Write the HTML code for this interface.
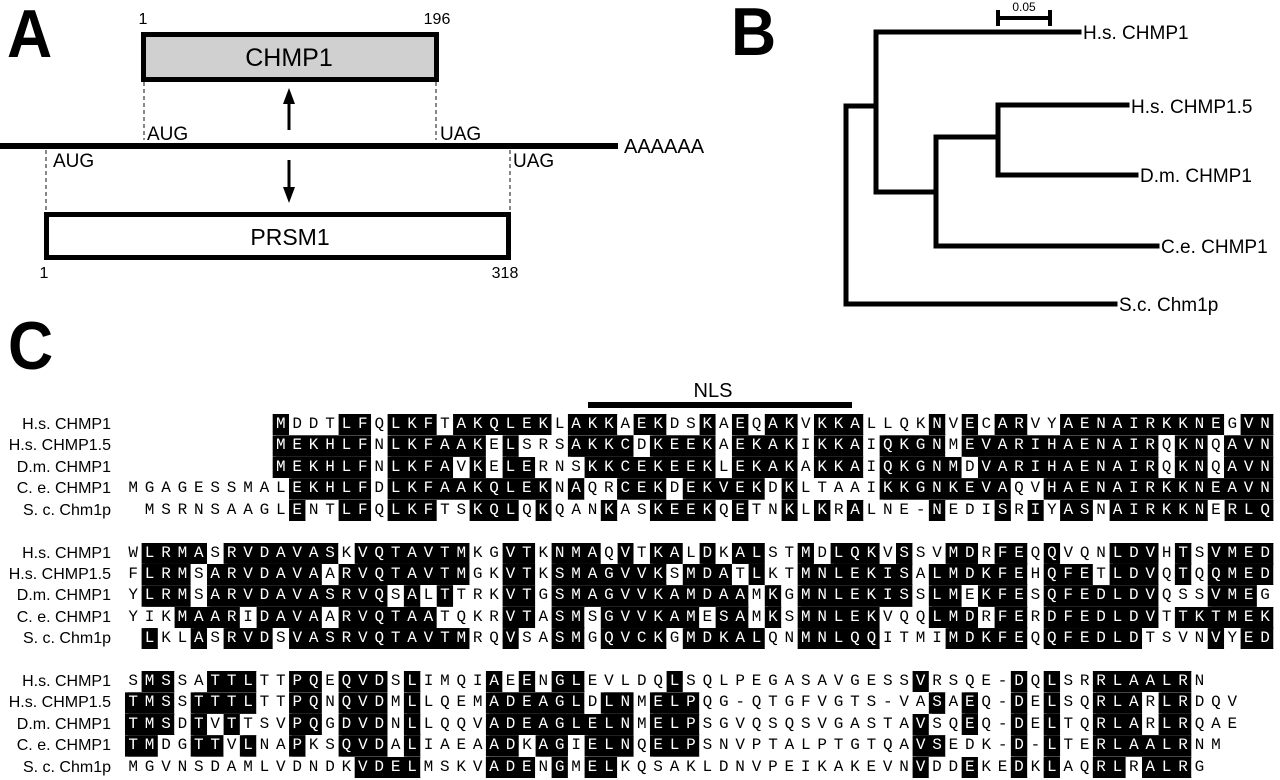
<!DOCTYPE html>
<html><head><meta charset="utf-8"><style>
html,body{margin:0;padding:0;background:#fff;}
body{width:1280px;height:780px;position:relative;overflow:hidden;font-family:"Liberation Sans",sans-serif;color:#000;}
svg{position:absolute;left:0;top:0;}
.lab{position:absolute;right:1169px;font-size:16px;line-height:21.4px;height:21.4px;white-space:nowrap;text-align:right;}
.r{position:absolute;font-family:"Liberation Mono",monospace;font-size:16px;letter-spacing:6.8px;line-height:21.4px;height:21.4px;white-space:pre;}
.r b{display:inline-block;font-weight:normal;background:#000;color:#fff;height:21.4px;vertical-align:top;box-shadow:-3.4px 0 0 #000;clip-path:inset(0 3.4px 0 -3.4px);}
.big{position:absolute;font-weight:bold;font-size:68px;line-height:68px;transform:scaleX(0.92);transform-origin:left top;}
</style></head><body>
<svg width="1280" height="780" viewBox="0 0 1280 780" font-family="Liberation Sans, sans-serif">
<!-- Panel A -->
<rect x="143.5" y="34.5" width="293" height="45" fill="#d0d0d0" stroke="#000" stroke-width="5"/>
<text x="289" y="66" font-size="25" text-anchor="middle">CHMP1</text>
<text x="143" y="24" font-size="16" text-anchor="middle">1</text>
<text x="437" y="24" font-size="16" text-anchor="middle">196</text>
<line x1="144" y1="82" x2="144" y2="140" stroke="#888" stroke-width="2" stroke-dasharray="4,3"/>
<line x1="436" y1="82" x2="436" y2="140" stroke="#888" stroke-width="2" stroke-dasharray="4,3"/>
<line x1="289" y1="100" x2="289" y2="130" stroke="#000" stroke-width="3"/>
<polygon points="289,88 283,104 295,104" fill="#000"/>
<rect x="0" y="143" width="618" height="6" fill="#000"/>
<text x="624" y="153" font-size="20">AAAAAA</text>
<text x="147" y="140" font-size="19">AUG</text>
<text x="440" y="140" font-size="19">UAG</text>
<text x="53" y="167" font-size="19">AUG</text>
<text x="513" y="167" font-size="19">UAG</text>
<line x1="46" y1="150" x2="46" y2="212" stroke="#888" stroke-width="2" stroke-dasharray="4,3"/>
<line x1="510" y1="150" x2="510" y2="212" stroke="#888" stroke-width="2" stroke-dasharray="4,3"/>
<line x1="289" y1="160" x2="289" y2="190" stroke="#000" stroke-width="3"/>
<polygon points="289,203 283,187 295,187" fill="#000"/>
<rect x="46.5" y="214.5" width="462" height="43" fill="#fff" stroke="#000" stroke-width="5"/>
<text x="290" y="245" font-size="23" text-anchor="middle">PRSM1</text>
<text x="44" y="278" font-size="16" text-anchor="middle">1</text>
<text x="505" y="278" font-size="16" text-anchor="middle">318</text>
<!-- Panel B -->
<g stroke="#000" stroke-width="5" fill="none" stroke-linecap="square">
<line x1="998" y1="18" x2="1050" y2="18" stroke-width="4"/>
<line x1="998" y1="12" x2="998" y2="24" stroke-width="4"/>
<line x1="1050" y1="12" x2="1050" y2="24" stroke-width="4"/>
<line x1="846" y1="106" x2="846" y2="304"/>
<line x1="846" y1="106" x2="876" y2="106"/>
<line x1="846" y1="304" x2="1115" y2="304"/>
<line x1="876" y1="32" x2="876" y2="192"/>
<line x1="876" y1="32" x2="1079" y2="32"/>
<line x1="876" y1="192" x2="936" y2="192"/>
<line x1="936" y1="137" x2="936" y2="246"/>
<line x1="936" y1="246" x2="1157" y2="246"/>
<line x1="936" y1="137" x2="998" y2="137"/>
<line x1="998" y1="105" x2="998" y2="175"/>
<line x1="998" y1="105" x2="1127" y2="105"/>
<line x1="998" y1="175" x2="1136" y2="175"/>
</g>
<text x="1024" y="11" font-size="12" text-anchor="middle">0.05</text>
<g font-size="19">
<text x="1083" y="39">H.s. CHMP1</text>
<text x="1131" y="113">H.s. CHMP1.5</text>
<text x="1140" y="182">D.m. CHMP1</text>
<text x="1161" y="253">C.e. CHMP1</text>
<text x="1119" y="311">S.c. Chm1p</text>
</g>
<!-- Panel C -->
<text x="713" y="397" font-size="20" text-anchor="middle">NLS</text>
<rect x="588" y="402" width="264" height="6" fill="#000"/>
</svg>
<div class="big" style="left:7px;top:0px;">A</div>
<div class="big" style="left:731px;top:-2px;">B</div>
<div class="big" style="left:8px;top:312px;">C</div>

<!-- Block 1 -->
<div class="lab" style="top:414px">H.s. CHMP1</div>
<div class="lab" style="top:435.4px">H.s. CHMP1.5</div>
<div class="lab" style="top:456.8px">D.m. CHMP1</div>
<div class="lab" style="top:478.2px">C. e. CHMP1</div>
<div class="lab" style="top:499.6px">S. c. Chm1p</div>
<div class="r" style="left:276px;top:414px"><b>M</b>DDT<b>LF</b>Q<b>LKF</b>T<b>AKQLEK</b>L<b>AKK</b>A<b>EK</b>DS<b>K</b>A<b>E</b>Q<b>AK</b>V<b>KKA</b>LLQK<b>N</b>V<b>E</b>C<b>AR</b>VY<b>AENAIRKKNE</b>G<b>VN</b></div>
<div class="r" style="left:276px;top:435.4px"><b>MEKHLF</b>N<b>LKFAAK</b>E<b>L</b>SRS<b>AKKC</b>D<b>KEEK</b>A<b>EKAK</b>I<b>KKA</b>I<b>QKGN</b>M<b>EVARIHAENAIR</b>Q<b>KN</b>Q<b>AVN</b></div>
<div class="r" style="left:276px;top:456.8px"><b>MEKHLF</b>N<b>LKFA</b>V<b>K</b>E<b>LE</b>RNS<b>KKCEKEEK</b>L<b>EKAK</b>A<b>KKA</b>I<b>QKGNM</b>D<b>VARIHAENAIR</b>Q<b>KN</b>Q<b>AVN</b></div>
<div class="r" style="left:128.4px;top:478.2px">MGAGESSMAL<b>EKHLF</b>D<b>LKFAAKQLEK</b>N<b>A</b>QR<b>CEK</b>D<b>EKVEK</b>D<b>K</b>LTAAI<b>KKGNKEVA</b>QV<b>HAENAIRKKNEAVN</b></div>
<div class="r" style="left:144.8px;top:499.6px">MSRNSAAGL<b>E</b>NT<b>LF</b>Q<b>LKF</b>TS<b>KQL</b>Q<b>K</b>QAN<b>K</b>AS<b>KEEK</b>Q<b>E</b>TN<b>K</b>L<b>K</b>R<b>A</b>LNE-<b>N</b>EDI<b>S</b>R<b>I</b>Y<b>AS</b>N<b>AIRKKN</b>E<b>RLQ</b></div>

<!-- Block 2 -->
<div class="lab" style="top:542.5px">H.s. CHMP1</div>
<div class="lab" style="top:563.9px">H.s. CHMP1.5</div>
<div class="lab" style="top:585.3px">D.m. CHMP1</div>
<div class="lab" style="top:606.7px">C. e. CHMP1</div>
<div class="lab" style="top:628.1px">S. c. Chm1p</div>
<div class="r" style="left:128.4px;top:542.5px">W<b>LRMA</b>S<b>RVDAVAS</b>K<b>VQTAVTM</b>KG<b>VT</b>K<b>NMA</b>Q<b>V</b>T<b>KA</b>L<b>D</b>K<b>AL</b>ST<b>M</b>D<b>LQK</b>V<b>S</b>SV<b>MD</b>R<b>FE</b>Q<b>Q</b>VQN<b>LDV</b>H<b>T</b>S<b>VMED</b></div>
<div class="r" style="left:128.4px;top:563.9px">F<b>LRM</b>S<b>ARVDAVA</b>A<b>RVQTAVTM</b>GK<b>VT</b>K<b>SMAGVVK</b>S<b>MDA</b>T<b>L</b>KT<b>MNLEKIS</b>A<b>LMDKFE</b>H<b>QFE</b>T<b>LDV</b>Q<b>T</b>Q<b>QMED</b></div>
<div class="r" style="left:128.4px;top:585.3px">Y<b>LRM</b>S<b>ARVDAVASRVQ</b>S<b>A</b>L<b>T</b>TRK<b>VT</b>G<b>SMAGVVKAMDAA</b>M<b>K</b>G<b>MNLEKIS</b>S<b>LM</b>E<b>KFE</b>S<b>QFEDLDV</b>QSS<b>VME</b>G</div>
<div class="r" style="left:128.4px;top:606.7px">YIK<b>MAAR</b>I<b>DAVA</b>A<b>RVQTAA</b>TQKR<b>VT</b>A<b>SM</b>S<b>GVVKAM</b>E<b>SA</b>M<b>K</b>S<b>MNLEK</b>VQQ<b>LMD</b>R<b>FE</b>R<b>DFEDLDV</b>T<b>TKTMEK</b></div>
<div class="r" style="left:144.8px;top:628.1px"><b>L</b>KL<b>A</b>S<b>RVD</b>S<b>VASRVQTAVTM</b>RQ<b>V</b>SA<b>SM</b>G<b>QVCK</b>G<b>MDKAL</b>QN<b>MNLQQ</b>ITMI<b>MDKFE</b>Q<b>QFEDLD</b>TSVN<b>V</b>Y<b>ED</b></div>

<!-- Block 3 -->
<div class="lab" style="top:671px">H.s. CHMP1</div>
<div class="lab" style="top:692.4px">H.s. CHMP1.5</div>
<div class="lab" style="top:713.8px">D.m. CHMP1</div>
<div class="lab" style="top:735.2px">C. e. CHMP1</div>
<div class="lab" style="top:756.6px">S. c. Chm1p</div>
<div class="r" style="left:128.4px;top:671px">S<b>MS</b>SA<b>TTL</b>TT<b>PQ</b>E<b>QVD</b>S<b>L</b>IMQI<b>A</b>E<b>E</b>N<b>GL</b>EVLDQ<b>L</b>SQLPEGASAVGESS<b>V</b>RSQE-<b>D</b>Q<b>L</b>SR<b>RLAALR</b>N</div>
<div class="r" style="left:128.4px;top:692.4px"><b>TMS</b>S<b>TTTL</b>TT<b>PQ</b>N<b>QVD</b>M<b>L</b>LQEM<b>ADEAGL</b>D<b>LN</b>M<b>ELP</b>QG-QTGFVGTS-VA<b>S</b>A<b>E</b>Q-<b>D</b>E<b>L</b>SQ<b>RLA</b>R<b>LR</b>DQV</div>
<div class="r" style="left:128.4px;top:713.8px"><b>TMS</b>D<b>T</b>V<b>T</b>TSV<b>PQ</b>G<b>DVD</b>N<b>L</b>LQQV<b>ADEAGLELN</b>M<b>ELP</b>SGVQSQSVGASTA<b>V</b>SQ<b>E</b>Q-<b>D</b>E<b>L</b>TQ<b>RLA</b>R<b>LR</b>QAE</div>
<div class="r" style="left:128.4px;top:735.2px"><b>TM</b>DG<b>TT</b>V<b>L</b>NA<b>P</b>KS<b>QVD</b>A<b>L</b>IAEA<b>AD</b>K<b>AG</b>I<b>ELN</b>Q<b>ELP</b>SNVPTALPTGTQA<b>VS</b>EDK-<b>D</b>-<b>L</b>TE<b>RLAALR</b>NM</div>
<div class="r" style="left:128.4px;top:756.6px">MGVNSDAMLVDNDK<b>VDEL</b>MSKV<b>ADE</b>N<b>G</b>M<b>EL</b>KQSAKLDNVPEIKAKEVN<b>V</b>DD<b>E</b>KE<b>D</b>K<b>L</b>AQ<b>RL</b>R<b>ALR</b>G</div>
</body></html>
